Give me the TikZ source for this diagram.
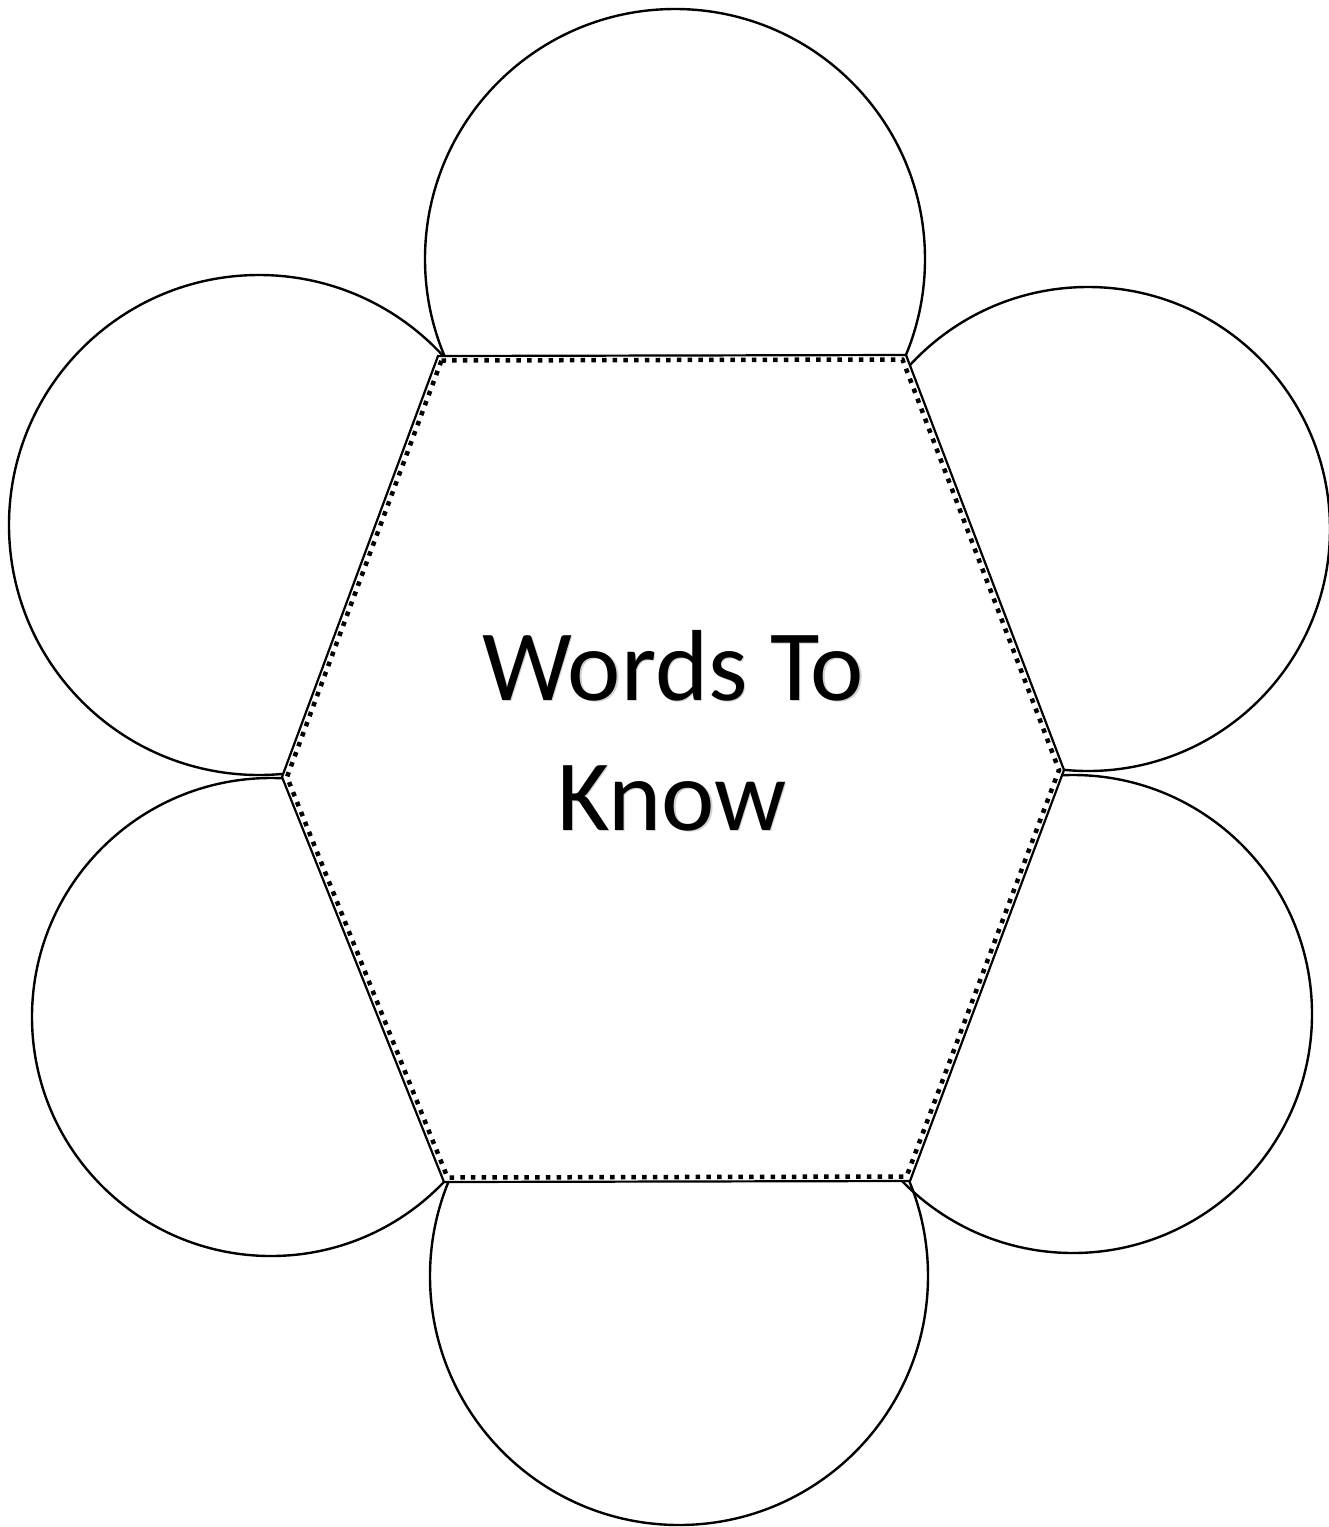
\documentclass[tikz,border=0pt]{standalone}
\usepackage{fontspec}
\setmainfont{Carlito}
\begin{document}
\begin{tikzpicture}[x=1pt,y=-1pt,
  petal/.style={draw=black,line width=2.4pt},
  hexsolid/.style={draw=black,line width=2.2pt,line join=miter},
  hexdots/.style={draw=black,line width=4.5pt,dash pattern=on 4.5pt off 6.2pt},
  bigtext/.style={font=\fontsize{101}{130}\selectfont,anchor=base,inner sep=0pt},
  shadowtext/.style={bigtext,text=black!18}]
\useasboundingbox (0,0) rectangle (1329,1527);
% circle centres
\coordinate (cT) at (675,259);
\coordinate (cUL) at (259,525);
\coordinate (cUR) at (1088,529);
\coordinate (cLL) at (271,1017);
\coordinate (cLR) at (1073,1014);
\coordinate (cB) at (679,1276);
% hexagon vertices
\coordinate (hTL) at (438,356);
\coordinate (hTR) at (906,355);
\coordinate (hR) at (1064,770);
\coordinate (hBR) at (910,1181);
\coordinate (hBL) at (444,1182);
\coordinate (hL) at (282,777);
% inner dotted hexagon vertices
\coordinate (iTL) at (441.5,360.5);
\coordinate (iTR) at (902.5,359.5);
\coordinate (iR) at (1059,770);
\coordinate (iBR) at (906.5,1176.5);
\coordinate (iBL) at (447.5,1177.5);
\coordinate (iL) at (287,777);
% petals
\draw[petal] (cT) circle[radius=250];
\draw[petal] (cUL) circle[radius=250];
\draw[petal] (cUR) circle[radius=242];
\draw[petal] (cLL) circle[radius=239];
\draw[petal] (cLR) circle[radius=239];
\draw[petal] (cB) circle[radius=249];
% hexagon
\fill[white] (hTL) -- (hTR) -- (hR) -- (hBR) -- (hBL) -- (hL) -- cycle;
\draw[hexsolid] (hTL) -- (hTR) -- (hR) -- (hBR) -- (hBL) -- (hL) -- cycle;
\draw[hexdots] (iTL) -- (iTR) -- (iR) -- (iBR) -- (iBL) -- (iL) -- cycle;
% text
\node[shadowtext] (s1) at (674.5,701.5) {Words To};
\node[shadowtext] (s2) at (673.5,831.5) {Know};
\node[bigtext] (t1) at (673,700) {Words To};
\node[bigtext] (t2) at (672,830) {Know};
\end{tikzpicture}
\end{document}
